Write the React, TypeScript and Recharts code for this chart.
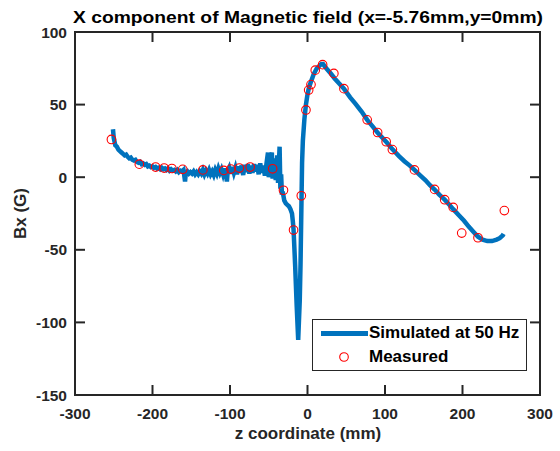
import React from 'react';
import { ComposedChart, Line, Scatter, XAxis, YAxis, Legend, Customized } from 'recharts';

const simZ = [-251,-250,-248,-246,-244,-242,-240,-238,-236,-234,-232,-230,-228,-226,-224,-222,-220,-218,-216,-214,-212,-210,-208,-206,-204,-202,-200,-198,-196,-194,-192,-190,-188,-186,-184,-182,-180,-178,-176,-174,-172,-170,-168,-166,-164,-162,-160,-158,-157,-155,-153,-151,-149,-147,-145,-143,-141,-139,-137,-135,-133,-131,-129,-127,-125,-123,-121,-119,-117,-115,-113,-111,-109,-107,-105,-104,-103,-101,-99,-97,-95,-93,-91,-89,-87,-85,-83,-81,-79,-77,-75,-73,-71,-69,-67,-65,-63,-61,-59,-57,-55,-53,-51,-50,-48,-46,-45,-43,-41,-39,-38,-36,-35,-34,-33,-32,-30,-28,-26,-24,-22,-20,-19,-18,-16,-14,-12,-10,-9,-8,-7,-6,-4,-2,0,2,4,6,8,10,12,14,16,18,20,22,25,30,35,40,47,55,62,70,77,84,90,96,102,110,118,125,132,138,145,152,158,164,170,177,183,188,195,202,208,214,220,226,232,238,244,248,252,253];
const simBx = [33,27,22,21,19,18,17,16,15,15.5,14,13,13.5,12,11.5,12,10.5,10,10.5,9,9.5,8.5,9,7.5,8,7,7.5,6.5,7,6,6.5,5.5,6.5,5.5,6,5,6,4.5,5.5,4.5,5,4,5,3.5,4.5,4,5,-3,3,4,2.5,3.5,2.5,4,2,3.5,2,4,2.5,5,2,4.5,2.5,5,2,4,1.5,5,2.5,6,3,5.5,2,6,1,-3,4,6.5,2.5,7,3,6.5,2,7.5,3,8,1.5,8.5,3.5,9,2.5,8,3,9,4,8.5,2,9.5,3,8,1,9,17,0,12,17,-1,13,-2,15,-4,21,-8,2,-12,-10,-16,-18,-19,-20,-22,-25,-30,-36,-60,-88,-112,-85,-60,-25,10,25,40,50,57,62,65,68,71,73,75,76,77,78,78,76.5,74.5,71.5,68,65,61,55,50.5,45,39.5,35,31,27.5,24,19,14.5,11,8,5,1.5,-2,-5.5,-8.5,-12,-15.5,-19,-22,-26,-30,-34,-37.5,-41,-43,-44,-44,-43,-42,-40,-39];

const measZ = [-253,-217,-196,-185,-175,-161,-135,-108,-99,-88,-74,-45,-31,-18,-8,-2,1.5,4.5,10,19.5,34,47,77,90.5,101.5,109.5,138,164,177,188,199,220,254];
const measBx = [26,9,7,6.3,6,5.4,5,4.7,5.6,6.3,7,5.8,-9,-36.4,-12.8,46.3,60,63.8,73.7,77.5,71.5,61,39.5,30.8,24.4,19,5,-8.4,-15.5,-20.8,-38.5,-41.7,-23];

const xTicks = [-300, -200, -100, 0, 100, 200, 300];
const yTicks = [-150, -100, -50, 0, 50, 100];

const TITLE = 'X component of Magnetic field (x=-5.76mm,y=0mm)';
const X_LABEL = 'z coordinate (mm)';
const Y_LABEL = 'Bx (G)';
const SIM_NAME = 'Simulated at 50 Hz';
const MEAS_NAME = 'Measured';

const simData = simZ.map((z, i) => ({ z, bx: simBx[i] }));
const measData = measZ.map((z, i) => ({ z, bx: measBx[i] }));

const AX = '#262626';
const BLUE = '#0072BD';
const FONT = '"Liberation Sans", Arial, Helvetica, sans-serif';
const TL = 10;
const W = 560;
const H = 451;
const M_TOP = 32;
const M_RIGHT = 20;
const Y_AXIS_W = 75;
const X_AXIS_H = 56;
const PLOT_TOP = M_TOP;
const PLOT_BOTTOM = H - X_AXIS_H;
const PLOT_LEFT = Y_AXIS_W;
const PLOT_RIGHT = W - M_RIGHT;

const BottomTick = (p: any) => (
  <g>
    <path d={`M${p.x},${p.y}L${p.x},${p.y - TL}`} stroke={AX} strokeWidth={2} fill="none" />
    <path d={`M${p.x},${PLOT_TOP}L${p.x},${PLOT_TOP + TL}`} stroke={AX} strokeWidth={2} fill="none" />
    <text x={p.x} y={p.y + 24} textAnchor="middle" fontFamily={FONT} fontWeight="bold" fontSize={15.5} fill={AX}>
      {p.payload.value}
    </text>
  </g>
);
const LeftTick = (p: any) => (
  <g>
    <path d={`M${p.x},${p.y}L${p.x + TL},${p.y}`} stroke={AX} strokeWidth={2} fill="none" />
    <path d={`M${PLOT_RIGHT},${p.y}L${PLOT_RIGHT - TL},${p.y}`} stroke={AX} strokeWidth={2} fill="none" />
    <text x={p.x - 8} y={p.y + 5.5} textAnchor="end" fontFamily={FONT} fontWeight="bold" fontSize={15.5} fill={AX}>
      {p.payload.value}
    </text>
  </g>
);

const Circle = (p: any) => (
  <circle cx={p.cx} cy={p.cy} r={4.3} fill="none" stroke="#FF0000" strokeWidth={1.1} />
);

const Labels = () => (
  <g fontFamily={FONT} fontWeight="bold" fill="#000">
    <rect
      x={PLOT_LEFT}
      y={PLOT_TOP}
      width={PLOT_RIGHT - PLOT_LEFT}
      height={PLOT_BOTTOM - PLOT_TOP}
      fill="none"
      stroke={AX}
      strokeWidth={2}
    />
    <text x={308} y={23} textAnchor="middle" fontSize={17} textLength={470} lengthAdjust="spacingAndGlyphs">
      {TITLE}
    </text>
    <text x={308} y={439} textAnchor="middle" fontSize={17} fill={AX}>
      {X_LABEL}
    </text>
    <text x={26} y={213.5} textAnchor="middle" fontSize={17} fill={AX} transform="rotate(-90 26 213.5)">
      {Y_LABEL}
    </text>
  </g>
);

const LegendBox = () => (
  <div
    style={{
      width: 215,
      height: 52,
      boxSizing: 'border-box',
      border: `1.5px solid ${AX}`,
      background: '#fff',
      fontFamily: FONT,
      fontWeight: 'bold',
      fontSize: 17,
      color: '#000',
      position: 'relative',
    }}
  >
    <div style={{ position: 'absolute', left: 8, top: 11, width: 47, height: 5, background: BLUE }} />
    <div style={{ position: 'absolute', left: 56, top: 3, lineHeight: '20px', whiteSpace: 'nowrap' }}>{SIM_NAME}</div>
    <svg style={{ position: 'absolute', left: 24, top: 30 }} width={14} height={14}>
      <circle cx={7} cy={7} r={4.3} fill="none" stroke="#FF0000" strokeWidth={1.1} />
    </svg>
    <div style={{ position: 'absolute', left: 56, top: 27, lineHeight: '20px', whiteSpace: 'nowrap' }}>{MEAS_NAME}</div>
  </div>
);

export default function App() {
  return (
    <div style={{ position: 'absolute', left: 0, top: 0, width: W, height: H, background: '#fff' }}>
      <ComposedChart width={W} height={H} margin={{ top: M_TOP, right: M_RIGHT, left: 0, bottom: 0 }}>
        <XAxis
          dataKey="z"
          type="number"
          domain={[-300, 300]}
          ticks={xTicks}
          allowDataOverflow
          height={X_AXIS_H}
          tickSize={0}
          tickMargin={0}
          tick={<BottomTick />}
          axisLine={false}
          tickLine={false}
        />
        <YAxis
          type="number"
          domain={[-150, 100]}
          ticks={yTicks}
          allowDataOverflow
          width={Y_AXIS_W}
          tickSize={0}
          tickMargin={0}
          tick={<LeftTick />}
          axisLine={false}
          tickLine={false}
        />
        <Line
          data={simData}
          dataKey="bx"
          stroke={BLUE}
          strokeWidth={4.5}
          dot={false}
          activeDot={false}
          type="linear"
          isAnimationActive={false}
          name={SIM_NAME}
        />
        <Scatter
          data={measData}
          dataKey="bx"
          shape={<Circle />}
          isAnimationActive={false}
          name={MEAS_NAME}
        />
        <Customized component={Labels} />
        <Legend
          layout="horizontal"
          verticalAlign="middle"
          align="center"
          content={() => <LegendBox />}
          wrapperStyle={{ position: 'absolute', left: 312, top: 319, width: 215, height: 52 }}
        />
      </ComposedChart>
    </div>
  );
}
